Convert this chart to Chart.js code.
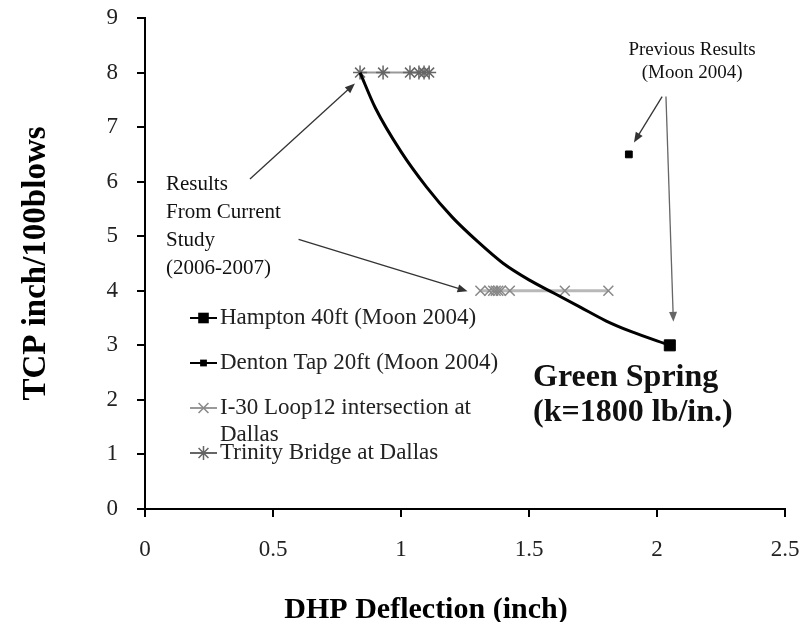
<!DOCTYPE html>
<html>
<head>
<meta charset="utf-8">
<script src="https://cdn.jsdelivr.net/npm/chart.js@4.4.0/dist/chart.umd.min.js"></script>
<style>
  html, body { margin: 0; padding: 0; background: #fff; }
  #wrap { width: 802px; height: 622px; }
</style>
</head>
<body>
<div id="wrap"><canvas id="chart-tcp"></canvas></div>
<script>
// values (x = DHP deflection, y = TCP)
var hamptonX = [2.05];
var hamptonY = [3.0];
var dentonX = [1.89];
var dentonY = [6.5];
var i30X = [1.31, 1.345, 1.36, 1.37, 1.38, 1.39, 1.425, 1.64, 1.81];
var i30Y = [4, 4, 4, 4, 4, 4, 4, 4, 4];
var trinityX = [0.84, 0.93, 1.035, 1.07, 1.09, 1.11];
var trinityY = [8, 8, 8, 8, 8, 8];
// green spring curve, traced
var springX = [0.84, 0.9, 1.0, 1.1, 1.2, 1.3, 1.4, 1.5, 1.6, 1.7, 1.8, 1.9, 2.05];
var springY = [8.0, 7.35, 6.55, 5.9, 5.35, 4.9, 4.5, 4.2, 3.95, 3.7, 3.45, 3.25, 3.0];
var xTicks = [0, 0.5, 1, 1.5, 2, 2.5];
var yTicks = [0, 1, 2, 3, 4, 5, 6, 7, 8, 9];

var serif = "'Liberation Serif', 'Times New Roman', serif";

function pts(xs, ys) {
  return xs.map(function (x, i) { return { x: x, y: ys[i] }; });
}

// annotation text + arrows, in data units
var notes = [
  { text: "Previous Results", x: 2.137, y: 8.42, align: "center", font: "19px " + serif },
  { text: "(Moon 2004)", x: 2.137, y: 8.0, align: "center", font: "19px " + serif },
  { text: "Results", x: 0.082, y: 5.94, align: "left", font: "21px " + serif },
  { text: "From Current", x: 0.082, y: 5.43, align: "left", font: "21px " + serif },
  { text: "Study", x: 0.082, y: 4.92, align: "left", font: "21px " + serif },
  { text: "(2006-2007)", x: 0.082, y: 4.40, align: "left", font: "21px " + serif },
  { text: "Green Spring", x: 1.516, y: 2.40, align: "left", font: "bold 32px " + serif },
  { text: "(k=1800 lb/in.)", x: 1.516, y: 1.76, align: "left", font: "bold 32px " + serif }
];
var arrows = [
  { from: [0.41, 6.05], to: [0.82, 7.80], color: "#333" },
  { from: [0.60, 4.94], to: [1.26, 3.99], color: "#333" },
  { from: [2.02, 7.56], to: [1.91, 6.72], color: "#333" },
  { from: [2.035, 7.56], to: [2.064, 3.43], color: "#666" }
];

function drawMark(c, style, x, y, r) {
  c.beginPath();
  if (style === "rect") {
    var s = r * Math.SQRT1_2;
    c.rect(x - s, y - s, 2 * s, 2 * s);
    c.fill();
    return;
  }
  var d = r * Math.SQRT1_2;
  c.moveTo(x - d, y - d); c.lineTo(x + d, y + d);
  c.moveTo(x - d, y + d); c.lineTo(x + d, y - d);
  if (style === "star") {
    c.moveTo(x, y - r); c.lineTo(x, y + r);
  }
  c.stroke();
}

function wrap(c, text, maxW) {
  var words = text.split(" "), lines = [], cur = "";
  words.forEach(function (w) {
    var t = cur ? cur + " " + w : w;
    if (cur && c.measureText(t).width > maxW) { lines.push(cur); cur = w; }
    else cur = t;
  });
  lines.push(cur);
  return lines;
}

var notePlugin = {
  id: "notes",
  afterDatasetsDraw: function (chart) {
    var c = chart.ctx, sx = chart.scales.x, sy = chart.scales.y, area = chart.chartArea;
    c.save();

    arrows.forEach(function (a) {
      var x1 = sx.getPixelForValue(a.from[0]), y1 = sy.getPixelForValue(a.from[1]);
      var x2 = sx.getPixelForValue(a.to[0]), y2 = sy.getPixelForValue(a.to[1]);
      var ang = Math.atan2(y2 - y1, x2 - x1), cs = Math.cos(ang), sn = Math.sin(ang);
      c.strokeStyle = a.color; c.fillStyle = a.color; c.lineWidth = 1.3;
      c.beginPath(); c.moveTo(x1, y1); c.lineTo(x2 - 8 * cs, y2 - 8 * sn); c.stroke();
      c.beginPath(); c.moveTo(x2, y2);
      c.lineTo(x2 - 10 * cs + 4 * sn, y2 - 10 * sn - 4 * cs);
      c.lineTo(x2 - 10 * cs - 4 * sn, y2 - 10 * sn + 4 * cs);
      c.closePath(); c.fill();
    });

    c.fillStyle = "#111";
    c.textBaseline = "middle";
    notes.forEach(function (n) {
      c.font = n.font;
      c.textAlign = n.align;
      c.fillText(n.text, sx.getPixelForValue(n.x), sy.getPixelForValue(n.y));
    });

    // legend inside the plot
    c.font = "23px " + serif;
    c.textAlign = "left";
    var row = 0;
    chart.data.datasets.forEach(function (ds) {
      if (!ds.label || ds.hideInLegend) return;
      var y = area.top + 300 + 45 * row;
      var x0 = area.left + 45, x1 = area.left + 72;
      c.strokeStyle = ds.legendLine; c.lineWidth = 2;
      c.beginPath(); c.moveTo(x0, y); c.lineTo(x1, y); c.stroke();
      c.fillStyle = ds.pointBackgroundColor; c.strokeStyle = ds.pointBorderColor;
      c.lineWidth = 1.5;
      drawMark(c, ds.pointStyle, (x0 + x1) / 2, y, ds.legendRadius);
      c.fillStyle = "#222";
      wrap(c, ds.label, 290).forEach(function (ln, k) {
        c.fillText(ln, x1 + 3, y + 27 * k);
      });
      row++;
    });

    // x axis title
    c.font = "bold 30px " + serif;
    c.textAlign = "center";
    c.fillStyle = "#000";
    c.fillText("DHP Deflection (inch)", area.left + 281, chart.height - 12);
    c.restore();
  }
};

var ctx = document.getElementById("chart-tcp").getContext("2d");
new Chart(ctx, {
  type: "scatter",
  data: {
    datasets: [
      {
        label: "Hampton 40ft (Moon 2004)",
        data: pts(hamptonX, hamptonY),
        pointStyle: "rect",
        pointRadius: 7.8,
        pointBackgroundColor: "#000",
        pointBorderColor: "#000",
        legendLine: "#000",
        legendRadius: 7.5,
      },
      {
        label: "Denton Tap 20ft (Moon 2004)",
        data: pts(dentonX, dentonY),
        pointStyle: "rect",
        pointRadius: 4.8,
        pointBackgroundColor: "#000",
        pointBorderColor: "#000",
        legendLine: "#000",
        legendRadius: 4.8,
      },
      {
        label: "Green Spring",
        hideInLegend: true,
        data: pts(springX, springY),
        showLine: true,
        borderColor: "#000",
        borderWidth: 3,
        pointRadius: 0,
        cubicInterpolationMode: "monotone",
      },
      {
        label: "I-30 Loop12 intersection at Dallas",
        data: pts(i30X, i30Y),
        showLine: true,
        borderColor: "#b8b8b8",
        borderWidth: 3,
        pointStyle: "crossRot",
        pointRadius: 7,
        pointBorderWidth: 1.5,
        pointBackgroundColor: "#888",
        pointBorderColor: "#888",
        legendLine: "#999",
        legendRadius: 7,
      },
      {
        label: "Trinity Bridge at Dallas",
        data: pts(trinityX, trinityY),
        showLine: true,
        borderColor: "#999",
        borderWidth: 2,
        pointStyle: "star",
        pointRadius: 7,
        pointBorderWidth: 1.5,
        pointBackgroundColor: "#666",
        pointBorderColor: "#666",
        legendLine: "#666",
        legendRadius: 7,
      },
    ],
  },
  options: {
    responsive: true,
    maintainAspectRatio: false,
    animation: false,
    layout: { padding: { top: 18, right: 17, left: 0, bottom: 0 } },
    plugins: {
      legend: { display: false },
      tooltip: { enabled: false },
    },
    scales: {
      x: {
        type: "linear",
        min: 0,
        max: 2.5,
        afterBuildTicks: function (scale) {
          scale.ticks = xTicks.map(function (v) { return { value: v }; });
        },
        afterFit: function (scale) {
          scale.height = 113;
          scale.paddingLeft = 0;
          scale.paddingRight = 0;
        },
        border: { display: true, color: "#000", width: 2 },
        grid: { drawOnChartArea: false, drawTicks: true, tickLength: 8, color: "#000", lineWidth: 2 },
        ticks: {
          padding: 19,
          color: "#222",
          font: { family: serif, size: 23 },
          callback: function (v) { return String(v); },
        },
      },
      y: {
        type: "linear",
        min: 0,
        max: 9,
        afterBuildTicks: function (scale) {
          scale.ticks = yTicks.map(function (v) { return { value: v }; });
        },
        afterFit: function (scale) {
          scale.width = 145;
          scale.paddingTop = 0;
          scale.paddingBottom = 0;
        },
        border: { display: true, color: "#000", width: 2 },
        grid: { drawOnChartArea: false, drawTicks: true, tickLength: 8, color: "#000", lineWidth: 2 },
        ticks: {
          padding: 19,
          color: "#222",
          font: { family: serif, size: 23 },
          callback: function (v) { return String(v); },
        },
        title: {
          display: true,
          text: "TCP inch/100blows",
          color: "#000",
          padding: { top: 17 },
          font: { family: serif, size: 33, weight: "bold" },
        },
      },
    },
  },
  plugins: [notePlugin],
});
</script>
</body>
</html>
